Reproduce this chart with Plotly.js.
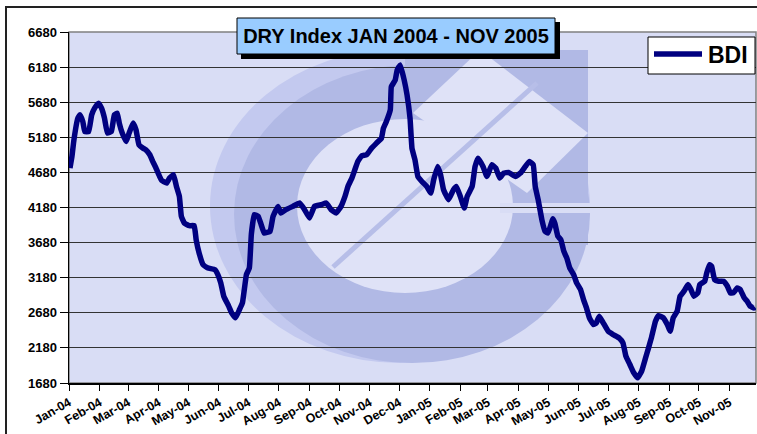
<!DOCTYPE html>
<html>
<head>
<meta charset="utf-8">
<script src="https://cdn.plot.ly/plotly-3.0.1.min.js"></script>
<style>html,body{margin:0;padding:0;background:#fff;}#chart{width:757px;height:434px;}</style>
</head>
<body>
<div id="chart"></div>
<script>
const dates = ['2004-01-02','2004-01-04','2004-01-06','2004-01-10','2004-01-12','2004-01-15','2004-01-17','2004-01-21','2004-01-24','2004-01-27','2004-01-31',
'2004-02-03','2004-02-06','2004-02-09','2004-02-13','2004-02-16','2004-02-19','2004-02-21','2004-02-24','2004-02-28',
'2004-03-02','2004-03-06','2004-03-09','2004-03-12','2004-03-16','2004-03-19','2004-03-23','2004-03-26','2004-03-29',
'2004-04-02','2004-04-04','2004-04-09','2004-04-12','2004-04-16','2004-04-19','2004-04-22','2004-04-24','2004-04-27',
'2004-05-02','2004-05-07','2004-05-09','2004-05-12','2004-05-16','2004-05-21','2004-05-28','2004-05-31',
'2004-06-03','2004-06-06','2004-06-11','2004-06-14','2004-06-18','2004-06-22','2004-06-25','2004-06-29',
'2004-07-02','2004-07-04','2004-07-07','2004-07-11','2004-07-14','2004-07-17','2004-07-23','2004-07-26','2004-07-31',
'2004-08-03','2004-08-08','2004-08-15','2004-08-22','2004-08-27',
'2004-09-01','2004-09-06','2004-09-13','2004-09-18','2004-09-23','2004-09-28',
'2004-10-03','2004-10-07','2004-10-10','2004-10-14','2004-10-17','2004-10-20','2004-10-24','2004-10-29',
'2004-11-03','2004-11-08','2004-11-13','2004-11-15','2004-11-18','2004-11-22','2004-11-23','2004-11-27','2004-11-29',
'2004-12-02','2004-12-06','2004-12-09','2004-12-12','2004-12-14','2004-12-17','2004-12-20','2004-12-24','2004-12-29',
'2005-01-02','2005-01-05','2005-01-09','2005-01-12','2005-01-15','2005-01-20','2005-01-25','2005-01-28',
'2005-02-01','2005-02-05','2005-02-08','2005-02-13','2005-02-16','2005-02-19','2005-02-24','2005-02-28',
'2005-03-05','2005-03-09','2005-03-13','2005-03-17','2005-03-22','2005-03-29',
'2005-04-03','2005-04-08','2005-04-12','2005-04-16','2005-04-18','2005-04-21','2005-04-25','2005-04-28',
'2005-05-01','2005-05-06','2005-05-08','2005-05-11','2005-05-14','2005-05-17','2005-05-20','2005-05-23','2005-05-27','2005-05-30',
'2005-06-03','2005-06-06','2005-06-09','2005-06-12','2005-06-16','2005-06-19','2005-06-22','2005-06-26',
'2005-07-01','2005-07-06','2005-07-12','2005-07-16','2005-07-19','2005-07-23','2005-07-27','2005-07-31',
'2005-08-04','2005-08-08','2005-08-11','2005-08-14','2005-08-18','2005-08-21','2005-08-26','2005-08-30',
'2005-09-02','2005-09-05','2005-09-09','2005-09-12','2005-09-16','2005-09-20','2005-09-23','2005-09-26','2005-09-30',
'2005-10-02','2005-10-07','2005-10-09','2005-10-12','2005-10-14','2005-10-17','2005-10-21','2005-10-26','2005-10-30',
'2005-11-02','2005-11-05','2005-11-09','2005-11-12','2005-11-16','2005-11-19','2005-11-22','2005-11-26','2005-11-27'];

const bdi = [4742,4907,5144,5453,5500,5405,5262,5262,5500,5595,5666,
5595,5453,5240,5262,5500,5524,5382,5240,5120,
5240,5382,5286,5073,5026,5002,4931,4836,4750,
4620,4566,4528,4599,4647,4480,4338,4054,3959,
3921,3921,3722,3533,3366,3319,3295,3224,
3106,2916,2774,2679,2608,2727,2822,3224,
3319,3800,4077,4054,3935,3817,3841,4054,4196,
4101,4149,4196,4244,4149,
4030,4196,4220,4244,4149,4101,
4196,4338,4480,4599,4718,4836,4917,4931,
5026,5097,5168,5310,5405,5571,5900,5997,6140,
6211,6000,5780,5450,5020,4860,4620,4551,4480,
4385,4575,4765,4647,4433,4291,4433,4480,
4338,4172,4338,4480,4765,4883,4765,4622,
4789,4741,4599,4670,4680,4622,
4670,4765,4836,4789,4480,4291,3990,3841,
3817,4020,3950,3770,3722,3557,3462,3319,3224,3106,
3011,2869,2750,2608,2513,2537,2632,2537,
2418,2370,2323,2252,2062,1944,1825,1754,
1850,2040,2180,2330,2560,2640,2608,2513,
2418,2608,2703,2916,2988,3082,3011,2916,2964,
3082,3130,3248,3366,3343,3153,3130,3130,3058,
2964,2964,3035,3011,2893,2845,2774,2750,2760];

const seriesName = 'BDI';
const chartTitle = 'DRY Index JAN 2004 - NOV 2005';
const yTicks = [1680,2180,2680,3180,3680,4180,4680,5180,5680,6180,6680];
const xRange = ['2004-01-01','2005-11-28'];

// pixel -> paper helpers (plot area: x 69..756, y 32..383)
const L = 69, R = 756, T = 32, B = 383;
const px = x => (x - L) / (R - L);
const py = y => (B - y) / (B - T);

const lineCol = '#000080';
const ringCol = '#b1b9e5';
const ringLight = '#c3c9ef';
const lightCol = '#dfe2f7';
function rect(x0,y0,x1,y1,fill,layer,line){
  return {type:'rect',xref:'paper',yref:'paper',x0:px(x0),x1:px(x1),y0:py(y0),y1:py(y1),
    fillcolor:fill,line:line||{width:0},layer:layer||'below'};
}
function ell(cx,cy,rx,ry,fill){
  return {type:'circle',xref:'paper',yref:'paper',x0:px(cx-rx),x1:px(cx+rx),y0:py(cy+ry),y1:py(cy-ry),
    fillcolor:fill,line:{width:0},layer:'below'};
}
function poly(pts,fill){
  let d = pts.map((p,i)=>(i?'L':'M')+px(p[0])+','+py(p[1])).join(' ')+' Z';
  return {type:'path',xref:'paper',yref:'paper',path:d,fillcolor:fill,line:{width:0},layer:'below'};
}

const shapes = [
  // watermark logo
  ell(400,206,190,157,ringLight),
  ell(412,214,178,149,ringCol),
  rect(405,50,588,245,ringCol),
  ell(405,206,108,87,lightCol),
  poly([[413,113],[480,50],[588,133],[527,193]],lightCol),
  rect(500,203,592,213,'#d9ddf5'),
  {type:'line',xref:'paper',yref:'paper',x0:px(333),y0:py(267),x1:px(537),y1:py(83),
    line:{color:'#b7bee8',width:5},layer:'below'},
  // plot border (top/right)
  {type:'rect',xref:'paper',yref:'paper',x0:0,x1:1,y0:0,y1:1,line:{color:'#808080',width:1.5},fillcolor:'rgba(0,0,0,0)',layer:'below'},
  // outer frame
  {type:'rect',xref:'paper',yref:'paper',x0:px(6),x1:px(820),y0:py(500),y1:py(7),line:{color:'#222',width:2},fillcolor:'rgba(0,0,0,0)',layer:'above'},
  // title shadow and box
  rect(241,22,560,59,'#000','above'),
  rect(237,18,555,54,'#99ccff','above',{color:'#000',width:1}),
  // legend box and sample line
  rect(648,37,755,74,'#ffffff','above',{color:'#000',width:1}),
  {type:'line',xref:'paper',yref:'paper',x0:px(654),y0:py(54),x1:px(702),y1:py(54),
    line:{color:lineCol,width:5.5},layer:'above'}
];

const trace = {
  x: dates, y: bdi, type:'scatter', mode:'lines', name:seriesName, showlegend:false,
  line:{color:lineCol,width:5.5,shape:'spline',smoothing:0.3}
};

const layout = {
  width:757, height:434,
  margin:{l:L, r:757-R, t:T, b:434-B, pad:0},
  paper_bgcolor:'#ffffff',
  plot_bgcolor:'#d9ddf5',
  font:{family:'Liberation Sans, Arial, sans-serif', color:'#000'},
  title:{text:'<b>'+chartTitle+'</b>', font:{size:20, color:'#000', family:'Liberation Sans, Arial, sans-serif'},
    xref:'container', yref:'container', x:396/757, xanchor:'center', y:1-36/434, yanchor:'middle'},
  xaxis:{type:'date', range:xRange, tick0:'2004-01-01', dtick:'M1', tickformat:'%b-%y',
    tickprefix:'<b>', ticksuffix:'</b>',
    tickangle:-30, tickfont:{size:12.5, color:'#000'}, ticks:'outside', ticklen:6, tickcolor:'#000',
    showline:true, linecolor:'#000', linewidth:1.5, showgrid:false, zeroline:false},
  yaxis:{range:[1680,6680], tickmode:'array', tickvals:yTicks, ticktext:yTicks.map(v=>'<b>'+v+'</b>'),
    tickfont:{size:13, color:'#000'}, ticks:'outside', ticklen:8, tickcolor:'#000',
    showline:true, linecolor:'#000', linewidth:1.5, showgrid:true, gridcolor:'#333', gridwidth:1, zeroline:false},
  showlegend:false,
  annotations:[{xref:'paper', yref:'paper', x:px(706), y:py(55), xanchor:'left', yanchor:'middle',
    text:'<b>'+seriesName+'</b>', showarrow:false, font:{size:23, color:'#000'}}],
  shapes:shapes
};

Plotly.newPlot('chart',[trace],layout,{displayModeBar:false,staticPlot:true});
</script>
</body>
</html>
